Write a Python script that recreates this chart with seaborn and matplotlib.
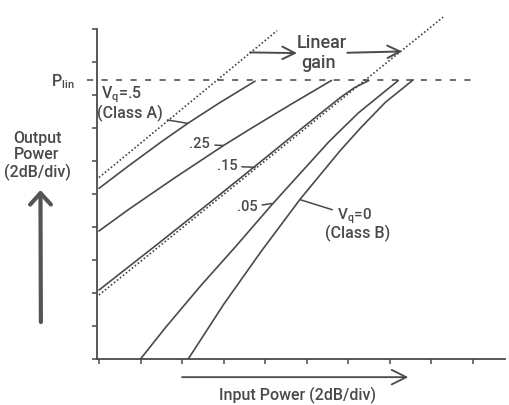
import matplotlib
matplotlib.use("Agg")
import matplotlib.pyplot as plt
import numpy as np
import pandas as pd
import seaborn as sns

sns.set_theme(style="white")
plt.rcParams["font.family"] = ["Roboto", "Liberation Sans", "DejaVu Sans"]
plt.rcParams["font.weight"] = "medium"
plt.rcParams["mathtext.fontset"] = "custom"
plt.rcParams["mathtext.rm"] = "Roboto:medium"

# curves, in divisions (2 dB/div on both axes)
classA_x = [0.0, 0.7, 1.5, 2.15, 2.9, 3.76]
classA_y = [5.17, 5.84, 6.58, 7.15, 7.76, 8.42]

vq25_x = [0.0, 0.7, 1.8, 3.0, 3.64, 4.6, 5.6]
vq25_y = [3.88, 4.52, 5.47, 6.47, 6.97, 7.7, 8.44]

vq15_x = [0.0, 1.4, 2.75, 3.64, 4.6, 5.81, 6.15, 6.5]
vq15_y = [2.09, 3.47, 4.82, 5.72, 6.7, 7.92, 8.22, 8.44]

vq05_x = [1.0, 1.6, 2.45, 3.3, 4.16, 4.9, 5.55, 6.25, 7.21]
vq05_y = [0.0, 0.95, 2.22, 3.42, 4.67, 5.7, 6.6, 7.46, 8.44]

classB_x = [2.15, 3.0, 3.9, 4.85, 5.8, 6.3, 6.9, 7.57]
classB_y = [0.0, 1.65, 3.25, 4.85, 6.3, 7.0, 7.78, 8.46]

# linear-gain reference lines (unit slope)
lin1_x = [0.0, 4.29]
lin1_y = [5.5, 9.95]
lin2_x = [0.0, 8.29]
lin2_y = [1.94, 10.36]

p_lin = 8.45
p_lin_x = [-0.29, 8.99]

curves = pd.concat([
    pd.DataFrame({"x": classA_x, "y": classA_y, "vq": ".5"}),
    pd.DataFrame({"x": vq25_x, "y": vq25_y, "vq": ".25"}),
    pd.DataFrame({"x": vq15_x, "y": vq15_y, "vq": ".15"}),
    pd.DataFrame({"x": vq05_x, "y": vq05_y, "vq": ".05"}),
    pd.DataFrame({"x": classB_x, "y": classB_y, "vq": "0"}),
])

ink = "#4a4a4a"
W, H = 509, 405
fig = plt.figure(figsize=(W / 100, H / 100), dpi=100)
ax = fig.add_axes([97 / W, 46 / H, 408 / W, 330 / H])

for vq, grp in curves.groupby("vq", sort=False):
    sns.lineplot(data=grp, x="x", y="y", ax=ax, color=ink, lw=1.2,
                 estimator=None, sort=False, legend=False)

for xs, ys in [(lin1_x, lin1_y), (lin2_x, lin2_y)]:
    ax.plot(xs, ys, color="#444444", lw=1.2, ls=(0, (1, 1.3)), clip_on=False)

ax.plot(p_lin_x, [p_lin, p_lin], color="#444444", lw=1.1, ls=(0, (4, 5.5)),
        clip_on=False)

ax.set_xlim(-0.048, 9.78)
ax.set_ylim(0, 10)
ax.set_xticks(np.arange(0, 10))
ax.set_yticks(np.arange(0, 11))
ax.set_xticklabels([])
ax.set_yticklabels([])
ax.set_xlabel("")
ax.set_ylabel("")
ax.tick_params(axis="both", direction="out", length=3.5, width=1.1,
               color=ink, bottom=True, left=True)
for side in ["top", "right"]:
    ax.spines[side].set_visible(False)
for side in ["left", "bottom"]:
    ax.spines[side].set_color(ink)
    ax.spines[side].set_linewidth(1.3)

txt = dict(color=ink, fontsize=11.5)
lead = dict(arrowstyle="-", color=ink, lw=1.1, shrinkA=1, shrinkB=0)

ax.text(-0.58, 8.25, r"P$_{\mathrm{lin}}$", ha="right", va="baseline", **txt)
ax.text(0.04, 7.9, r"V$_{\mathrm{q}}$=.5", ha="left", va="baseline", **txt)
ax.annotate("(Class A)", xy=(2.14, 7.14), xytext=(-0.05, 7.29), ha="left",
            va="baseline", arrowprops=lead, **txt)
ax.annotate(".25", xy=(2.99, 6.47), xytext=(2.43, 6.38), ha="center",
            va="baseline", arrowprops=lead, color=ink, fontsize=10.5)
ax.annotate(".15", xy=(3.76, 5.81), xytext=(3.08, 5.72), ha="center",
            va="baseline", arrowprops=lead, color=ink, fontsize=10.5)
ax.annotate(".05", xy=(4.16, 4.71), xytext=(3.57, 4.48), ha="center",
            va="baseline", arrowprops=lead, color=ink, fontsize=10.5)
ax.annotate(r"V$_{\mathrm{q}}$=0", xy=(4.84, 4.83), xytext=(5.73, 4.22),
            ha="left", va="baseline", arrowprops=lead, color=ink, fontsize=11)
ax.text(5.45, 3.65, "(Class B)", ha="left", va="baseline", **txt)

ax.text(5.37, 9.41, "Linear", ha="center", va="baseline", color=ink, fontsize=13)
ax.text(5.28, 8.81, "gain", ha="center", va="baseline", color=ink, fontsize=13)
arr = dict(arrowstyle="->,head_length=0.6,head_width=0.3", color=ink, lw=1.4,
           shrinkA=0, shrinkB=0, mutation_scale=15)
ax.annotate("", xy=(4.77, 9.27), xytext=(3.64, 9.29), arrowprops=arr)
ax.annotate("", xy=(7.30, 9.32), xytext=(5.98, 9.28), arrowprops=arr)

# axis direction arrows and titles
ax.annotate("", xy=(7.45, -0.55), xytext=(2.0, -0.55), annotation_clip=False,
            arrowprops=dict(arrowstyle="->,head_length=0.7,head_width=0.35",
                            color=ink, lw=1.3, shrinkA=0, shrinkB=0,
                            mutation_scale=15))
ax.text(4.77, -1.24, "Input Power (2dB/div)", ha="center", va="baseline",
        clip_on=False, **txt)

ax.annotate("", xy=(-1.41, 5.12), xytext=(-1.40, 1.12), annotation_clip=False,
            arrowprops=dict(arrowstyle="->,head_length=0.55,head_width=0.5",
                            color="#555555", lw=3.0, shrinkA=0, shrinkB=0,
                            mutation_scale=15))
fig.text(37 / W, 1 - 156 / H, "Output\nPower\n(2dB/div)", ha="center",
         va="center", linespacing=1.15, **txt)

fig.savefig("out.png", dpi=100, facecolor="white")
